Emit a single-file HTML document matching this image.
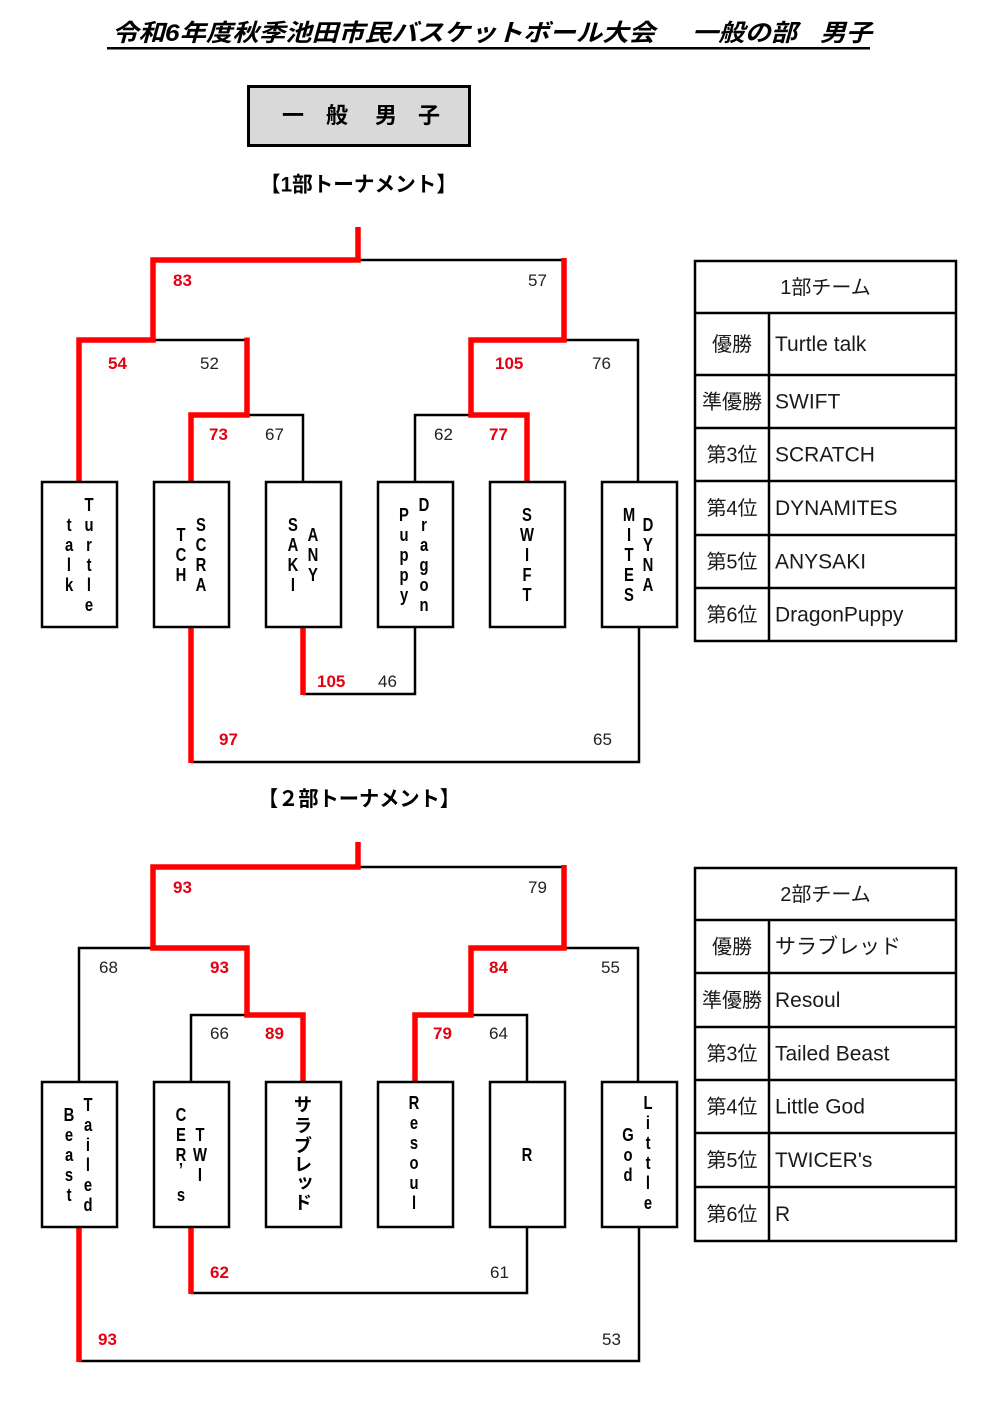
<!DOCTYPE html>
<html><head><meta charset="utf-8">
<style>
html,body{margin:0;padding:0;background:#fff;}
svg{display:block;}
.v text{font-family:"Liberation Sans","Noto Sans CJK JP",sans-serif;font-size:18.5px;font-weight:bold;text-anchor:middle;fill:#000;transform-box:fill-box;transform-origin:center;transform:scaleX(0.8);}
.k{font-family:"Noto Sans CJK JP","Liberation Sans",sans-serif;font-size:18px;font-weight:bold;text-anchor:middle;fill:#000;}
.r{font-family:"Liberation Sans",sans-serif;font-size:17px;font-weight:bold;fill:#e60012;}
.b{font-family:"Liberation Sans",sans-serif;font-size:17px;fill:#222;}
.t{font-family:"Liberation Sans","Noto Sans CJK JP",sans-serif;font-size:20px;fill:#1a1a1a;}
.tl{font-family:"Liberation Sans","Noto Sans CJK JP",sans-serif;font-size:21px;fill:#1a1a1a;}
</style></head>
<body>
<svg width="990" height="1419" viewBox="0 0 990 1419" xmlns="http://www.w3.org/2000/svg">
<rect width="990" height="1419" fill="#fff"/>

<!-- Title -->
<g font-family="'Liberation Sans','Noto Sans CJK JP',sans-serif" font-size="24" font-weight="bold" font-style="italic" fill="#000">
<text x="112" y="41" textLength="543" lengthAdjust="spacingAndGlyphs">令和6年度秋季池田市民バスケットボール大会</text>
<text x="692" y="41" textLength="105" lengthAdjust="spacingAndGlyphs">一般の部</text>
<text x="820" y="41" textLength="52" lengthAdjust="spacingAndGlyphs">男子</text>
</g>
<rect x="107" y="47" width="763" height="2.5" fill="#000"/>

<!-- 一般男子 box -->
<rect x="248.5" y="86.5" width="221" height="59" fill="#d9d9d9" stroke="#000" stroke-width="3"/>
<g font-family="'Noto Sans CJK JP',sans-serif" font-size="22" font-weight="bold" text-anchor="middle" fill="#000">
<text x="293" y="123">一</text>
<text x="337" y="123">般</text>
<text x="386" y="123">男</text>
<text x="429" y="123">子</text>
</g>

<!-- Section headings -->
<g font-family="'Liberation Sans','Noto Sans CJK JP',sans-serif" font-size="21" font-weight="bold" fill="#000">
<text x="260" y="191.5" textLength="197" lengthAdjust="spacingAndGlyphs">【1部トーナメント】</text>
<text x="258" y="806" textLength="202" lengthAdjust="spacingAndGlyphs">【２部トーナメント】</text>
</g>

<!-- ============ Tournament 1 ============ -->
<g fill="none" stroke="#000" stroke-width="2.5" stroke-linejoin="miter">
<path d="M358,260 H564"/>
<path d="M153,340 H247"/>
<path d="M247,415 H303 V481"/>
<path d="M415,481 V415 H471"/>
<path d="M564,340 H638 V481"/>
<path d="M191,762 H639 V627"/>
<path d="M303,694 H415 V627"/>
</g>
<g fill="none" stroke="#f00" stroke-width="5.5" stroke-linejoin="miter" stroke-linecap="butt">
<path d="M79,481 V340 H153 V260 H358 V227"/>
<path d="M191,481 V415 H247 V337.5"/>
<path d="M527,481 V415 H471 V340 H564 V258"/>
<path d="M191,627 V763"/>
<path d="M303,627 V695"/>
</g>
<g fill="#fff" stroke="#000" stroke-width="2.5">
<rect x="42" y="482" width="75" height="145"/>
<rect x="154" y="482" width="75" height="145"/>
<rect x="266" y="482" width="75" height="145"/>
<rect x="378" y="482" width="75" height="145"/>
<rect x="490" y="482" width="75" height="145"/>
<rect x="602" y="482" width="75" height="145"/>
</g>

<!-- T1 box labels -->
<g class="v">
<text x="89" y="511">T</text><text x="89" y="531">u</text><text x="89" y="551">r</text><text x="89" y="571">t</text><text x="89" y="591">l</text><text x="89" y="611">e</text>
<text x="69" y="531">t</text><text x="69" y="551">a</text><text x="69" y="571">l</text><text x="69" y="591">k</text>

<text x="201" y="531">S</text><text x="201" y="551">C</text><text x="201" y="571">R</text><text x="201" y="591">A</text>
<text x="181" y="541">T</text><text x="181" y="561">C</text><text x="181" y="581">H</text>

<text x="313" y="541">A</text><text x="313" y="561">N</text><text x="313" y="581">Y</text>
<text x="293" y="531">S</text><text x="293" y="551">A</text><text x="293" y="571">K</text><text x="293" y="591">I</text>

<text x="424" y="511">D</text><text x="424" y="531">r</text><text x="424" y="551">a</text><text x="424" y="571">g</text><text x="424" y="591">o</text><text x="424" y="611">n</text>
<text x="404" y="521">P</text><text x="404" y="541">u</text><text x="404" y="561">p</text><text x="404" y="581">p</text><text x="404" y="601">y</text>

<text x="527" y="521">S</text><text x="527" y="541">W</text><text x="527" y="561">I</text><text x="527" y="581">F</text><text x="527" y="601">T</text>

<text x="648" y="531">D</text><text x="648" y="551">Y</text><text x="648" y="571">N</text><text x="648" y="591">A</text>
<text x="629" y="521">M</text><text x="629" y="541">I</text><text x="629" y="561">T</text><text x="629" y="581">E</text><text x="629" y="601">S</text>
</g>

<!-- T1 scores -->
<text class="r" x="173" y="286">83</text>
<text class="b" x="528" y="286">57</text>
<text class="r" x="108" y="369">54</text>
<text class="b" x="200" y="369">52</text>
<text class="r" x="495" y="369">105</text>
<text class="b" x="592" y="369">76</text>
<text class="r" x="209" y="440">73</text>
<text class="b" x="265" y="440">67</text>
<text class="b" x="434" y="440">62</text>
<text class="r" x="489" y="440">77</text>
<text class="r" x="317" y="687">105</text>
<text class="b" x="378" y="687">46</text>
<text class="r" x="219" y="745">97</text>
<text class="b" x="593" y="745">65</text>

<!-- Table 1 -->
<g fill="none" stroke="#000" stroke-width="2.5">
<rect x="695" y="261" width="261" height="380"/>
<path d="M695,313 H956 M695,375 H956 M695,428 H956 M695,481 H956 M695,535 H956 M695,588 H956"/>
<path d="M769,313 V641"/>
</g>
<text class="t" x="825.5" y="294" text-anchor="middle">1部チーム</text>
<g class="t" text-anchor="middle">
<text x="732" y="351">優勝</text>
<text x="732" y="408.5">準優勝</text>
<text x="732" y="461.5">第3位</text>
<text x="732" y="515">第4位</text>
<text x="732" y="568.5">第5位</text>
<text x="732" y="621.5">第6位</text>
</g>
<g class="tl">
<text x="775" y="351">Turtle talk</text>
<text x="775" y="408.5">SWIFT</text>
<text x="775" y="461.5">SCRATCH</text>
<text x="775" y="515">DYNAMITES</text>
<text x="775" y="568.5">ANYSAKI</text>
<text x="775" y="621.5">DragonPuppy</text>
</g>

<!-- ============ Tournament 2 ============ -->
<g fill="none" stroke="#000" stroke-width="2.5" stroke-linejoin="miter">
<path d="M358,867 H564"/>
<path d="M79,1081 V948 H153"/>
<path d="M191,1081 V1015 H247"/>
<path d="M471,1015 H527 V1081"/>
<path d="M564,948 H638 V1081"/>
<path d="M79,1361 H639 V1227"/>
<path d="M191,1293 H527 V1227"/>
</g>
<g fill="none" stroke="#f00" stroke-width="5.5" stroke-linejoin="miter" stroke-linecap="butt">
<path d="M303,1081 V1015 H247 V948 H153 V867 H358 V842"/>
<path d="M415,1081 V1015 H471 V948 H564 V865"/>
<path d="M79,1227 V1362"/>
<path d="M191,1227 V1294"/>
</g>
<g fill="#fff" stroke="#000" stroke-width="2.5">
<rect x="42" y="1082" width="75" height="145"/>
<rect x="154" y="1082" width="75" height="145"/>
<rect x="266" y="1082" width="75" height="145"/>
<rect x="378" y="1082" width="75" height="145"/>
<rect x="490" y="1082" width="75" height="145"/>
<rect x="602" y="1082" width="75" height="145"/>
</g>

<!-- T2 box labels -->
<g class="v">
<text x="88" y="1111">T</text><text x="88" y="1131">a</text><text x="88" y="1151">i</text><text x="88" y="1171">l</text><text x="88" y="1191">e</text><text x="88" y="1211">d</text>
<text x="69" y="1121">B</text><text x="69" y="1141">e</text><text x="69" y="1161">a</text><text x="69" y="1181">s</text><text x="69" y="1201">t</text>

<text x="200" y="1141">T</text><text x="200" y="1161">W</text><text x="200" y="1181">I</text>
<text x="181" y="1121">C</text><text x="181" y="1141">E</text><text x="181" y="1161">R</text><text x="181" y="1176">’</text><text x="181" y="1201">s</text>

<text x="414" y="1109">R</text><text x="414" y="1129">e</text><text x="414" y="1149">s</text><text x="414" y="1169">o</text><text x="414" y="1189">u</text><text x="414" y="1209">l</text>

<text x="527" y="1161">R</text>

<text x="648" y="1109">L</text><text x="648" y="1129">i</text><text x="648" y="1149">t</text><text x="648" y="1169">t</text><text x="648" y="1189">l</text><text x="648" y="1209">e</text>
<text x="628" y="1141">G</text><text x="628" y="1161">o</text><text x="628" y="1181">d</text>
</g>
<g class="k">
<text x="303" y="1111">サ</text>
<text x="303" y="1132">ラ</text>
<text x="303" y="1152">ブ</text>
<text x="303" y="1171">レ</text>
<text x="305" y="1188">ッ</text>
<text x="303" y="1209">ド</text>
</g>

<!-- T2 scores -->
<text class="r" x="173" y="893">93</text>
<text class="b" x="528" y="893">79</text>
<text class="b" x="99" y="973">68</text>
<text class="r" x="210" y="973">93</text>
<text class="r" x="489" y="973">84</text>
<text class="b" x="601" y="973">55</text>
<text class="b" x="210" y="1039">66</text>
<text class="r" x="265" y="1039">89</text>
<text class="r" x="433" y="1039">79</text>
<text class="b" x="489" y="1039">64</text>
<text class="r" x="210" y="1278">62</text>
<text class="b" x="490" y="1278">61</text>
<text class="r" x="98" y="1345">93</text>
<text class="b" x="602" y="1345">53</text>

<!-- Table 2 -->
<g fill="none" stroke="#000" stroke-width="2.5">
<rect x="695" y="868" width="261" height="373"/>
<path d="M695,920 H956 M695,973 H956 M695,1027 H956 M695,1080 H956 M695,1133 H956 M695,1187 H956"/>
<path d="M769,920 V1241"/>
</g>
<text class="t" x="825.5" y="901" text-anchor="middle">2部チーム</text>
<g class="t" text-anchor="middle">
<text x="732" y="953.5">優勝</text>
<text x="732" y="1007">準優勝</text>
<text x="732" y="1060.5">第3位</text>
<text x="732" y="1113.5">第4位</text>
<text x="732" y="1167">第5位</text>
<text x="732" y="1221">第6位</text>
</g>
<g class="tl">
<text x="775" y="953.5">サラブレッド</text>
<text x="775" y="1007">Resoul</text>
<text x="775" y="1060.5">Tailed Beast</text>
<text x="775" y="1113.5">Little God</text>
<text x="775" y="1167">TWICER's</text>
<text x="775" y="1221">R</text>
</g>
</svg>
</body></html>
